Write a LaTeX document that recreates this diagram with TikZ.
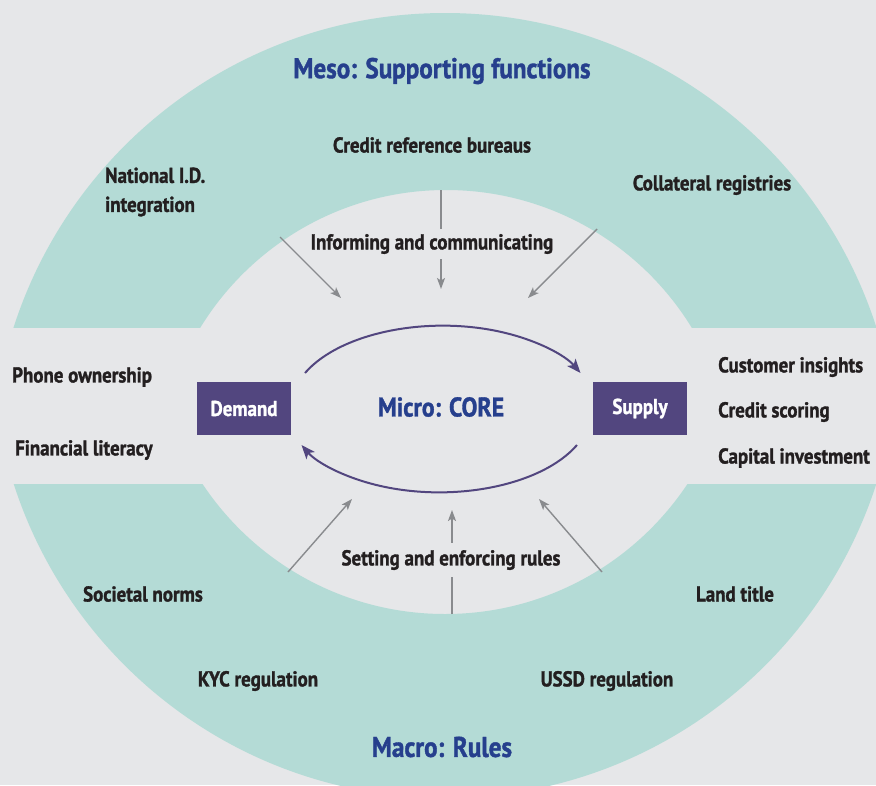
\documentclass[tikz,border=0pt]{standalone}
\usepackage{fontspec}
\newfontfamily\narrowfont{PT Sans}[FakeStretch=0.88, BoldFeatures={FakeBold=1.3}]
\usetikzlibrary{arrows.meta}
\definecolor{bgray}{HTML}{E6E7E9}
\definecolor{ringteal}{HTML}{B4DBD6}
\definecolor{corepurple}{HTML}{52467F}
\definecolor{titleblue}{HTML}{263F8D}
\definecolor{arrowgray}{HTML}{898B8E}
\definecolor{labelblack}{HTML}{231F20}
\tikzset{
	lbl/.style={inner sep=0pt, text=labelblack, font=\narrowfont\bfseries\fontsize{21.5}{29}\selectfont},
	ttl/.style={inner sep=0pt, text=titleblue, font=\narrowfont\bfseries\fontsize{28.5}{34}\selectfont},
	corebox/.style={fill=corepurple, text=white, minimum width=94pt, minimum height=53pt, inner sep=0pt, font=\narrowfont\bfseries\fontsize{21.5}{24}\selectfont},
	grayline/.style={line width=1.4pt, color=arrowgray},
	grayarrow/.style={grayline, -{Stealth[length=11pt, width=8pt, inset=2.5pt]}},
	coreloop/.style={line width=2pt, color=corepurple, -{Stealth[length=14pt, width=11pt, inset=3.5pt]}}
}
\begin{document}
\begin{tikzpicture}[x=1pt, y=-1pt]
		%%%%% START %%%%%
		
		\fill[bgray] (0, 0) rectangle (876, 785);
		\useasboundingbox (0, 0) rectangle (876, 785);
		
		% meso ring (top) and macro ring (bottom)
		\begin{scope}
			\clip (0, 0) rectangle (876, 327);
			\fill[ringteal, even odd rule] (445, 466) circle (453) (446, 478) circle (288);
		\end{scope}
		\begin{scope}
			\clip (0, 484) rectangle (876, 785);
			\fill[ringteal, even odd rule] (445, 345) circle (453) (445, 323) circle (291);
		\end{scope}
		
		\node[ttl] (meso) at (442, 71) {Meso: Supporting functions};
		\node[lbl] (bureaus) at (432, 145) {Credit reference bureaus};
		\node[lbl, anchor=west, align=left] (natid) at (105, 192) {National I.D.\\integration};
		\node[lbl] (registries) at (712, 185) {Collateral registries};
		\node[lbl, minimum height=30pt] (inform) at (432, 244) {Informing and communicating};
		
		\node[lbl, anchor=west] (phone) at (12, 377) {Phone ownership};
		\node[lbl, anchor=west] (literacy) at (15, 450) {Financial literacy};
		\node[corebox] (demand) at (244, 408.5) {Demand};
		\node[ttl, font=\narrowfont\bfseries\fontsize{27}{32}\selectfont] (micro) at (441, 407) {Micro: CORE};
		\node[corebox] (supply) at (640, 408.5) {Supply};
		\node[lbl, anchor=west] (insights) at (718, 367) {Customer insights};
		\node[lbl, anchor=west] (scoring) at (718, 412) {Credit scoring};
		\node[lbl, anchor=west] (capital) at (718, 458) {Capital investment};
		
		\node[lbl, minimum height=34pt] (rules) at (451, 560) {Setting and enforcing rules};
		\node[lbl] (norms) at (143, 594) {Societal norms};
		\node[lbl] (land) at (735, 594) {Land title};
		\node[lbl] (kyc) at (258, 681) {KYC regulation};
		\node[lbl] (ussd) at (607, 681) {USSD regulation};
		\node[ttl] (macro) at (442, 747) {Macro: Rules};
		
		% arrows into the core
		\coordinate (infoL) at (280, 237);
		\coordinate (infoLtip) at (341, 298);
		\coordinate (infoM) at (441, 190);
		\coordinate (infoMtip) at (441, 289);
		\coordinate (infoR) at (597, 229);
		\coordinate (infoRtip) at (528, 298);
		\draw[grayarrow] (infoL) -- (infoLtip);
		\draw[grayline] (infoM) -- (infoM |- inform.north);
		\draw[grayarrow] (infoM |- inform.south) -- (infoMtip);
		\draw[grayarrow] (infoR) -- (infoRtip);
		
		\coordinate (ruleL) at (288, 572);
		\coordinate (ruleLtip) at (352, 499);
		\coordinate (ruleM) at (452, 614);
		\coordinate (ruleMtip) at (452, 510);
		\coordinate (ruleR) at (602, 572);
		\coordinate (ruleRtip) at (539, 499);
		\draw[grayarrow] (ruleL) -- (ruleLtip);
		\draw[grayline] (ruleM) -- (ruleM |- rules.south);
		\draw[grayarrow] (ruleM |- rules.north) -- (ruleMtip);
		\draw[grayarrow] (ruleR) -- (ruleRtip);
		
		% demand -> supply -> demand loop
		\coordinate (loopTop) at (305, 373);
		\coordinate (loopBot) at (577, 445);
		\draw[coreloop] (loopTop) arc[start angle=-155, end angle=-25, x radius=152, y radius=82];
		\draw[coreloop] (loopBot) arc[start angle=25, end angle=155, x radius=152, y radius=82];
		
		%%%%% END %%%%%
\end{tikzpicture}
\end{document}
